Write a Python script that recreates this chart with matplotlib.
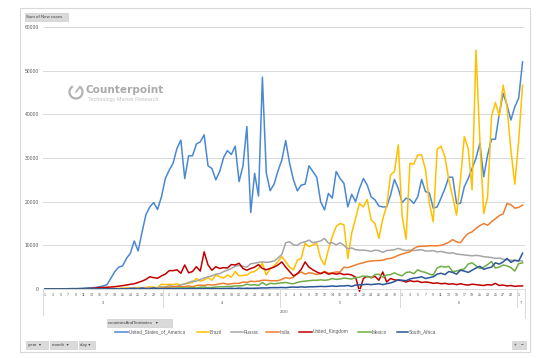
import numpy as np
import pandas as pd
import matplotlib
matplotlib.use("Agg")
import matplotlib.pyplot as plt
from matplotlib.patches import Rectangle, Arc
from matplotlib.lines import Line2D

plt.rcParams['font.family'] = ['Liberation Sans', 'DejaVu Sans']

# daily new cases, 1 March - 2 July 2020
days = pd.date_range("2020-03-01", "2020-07-02")

usa = [0, 10, 20, 20, 30, 40, 70, 100, 100, 120, 200, 270, 290, 350, 510,
       700, 1000, 2500, 4000, 5000, 5300, 7000, 8200, 11000, 8700, 13000, 17000, 18800, 19800, 18200,
       21100, 25300, 27200, 28800, 32200, 34100, 25300, 30500, 30500, 33200, 33700, 35300, 28200, 27600, 25000,
       26900, 30100, 31700, 30800, 32700, 24600, 28200, 37200, 17500, 26500, 21300, 48500, 26600, 22500, 24000,
       27000, 29500, 34000, 28800, 25000, 22500, 23800, 24000, 28200, 26900, 25600, 20000, 18100, 21900, 20800,
       26900, 25300, 24200, 18800, 21700, 20000, 23000, 25300, 23800, 21100, 20400, 19000, 18800, 18800, 21500,
       25100, 23000, 19800, 20800, 20500, 19600, 21100, 25100, 22300, 22000, 18500, 18800, 20800, 23000, 25600,
       25600, 19600, 19600, 23400, 25300, 27600, 29900, 33400, 25700, 30700, 34300, 34300, 40100, 44800, 42100,
       38700, 41700, 43700, 52000]
brazil = [0, 0, 0, 0, 0, 0, 0, 0, 0, 0, 10, 10, 20, 30, 40, 50, 60, 100, 120, 150, 200, 250, 230, 200, 350,
          300, 350, 500, 400, 300, 1100, 1000, 1100, 1000, 1200, 900, 1200, 1300, 1500, 2400, 1800, 2100, 2600,
          2000, 3200, 2800, 2500, 3200, 2700, 4000, 3000, 3100, 3200, 3800, 4000, 4700, 5900, 3200, 4600, 5300,
          6300, 7400, 6300, 5000, 4400, 6600, 7000, 10500, 9700, 10100, 10500, 7000, 5500, 9000, 12000, 14300,
          15000, 14700, 7000, 12800, 16200, 19600, 18800, 20500, 15800, 15000, 11600, 16000, 19000, 26100, 26900,
          33000, 16600, 11400, 28800, 28600, 30700, 30700, 27300, 19600, 15400, 32000, 32700, 30300, 25000, 21100,
          16900, 25000, 34900, 32200, 22700, 54700, 34100, 17300, 21100, 39500, 42700, 39600, 46700, 41700, 31800,
          24000, 34000, 46700]
russia = [0, 0, 0, 0, 0, 0, 0, 0, 0, 0, 0, 0, 0, 10, 10, 20, 30, 50, 50, 60,
          70, 60, 70, 160, 180, 200, 230, 300, 270, 300, 500, 440, 770, 600, 580, 950, 1150, 1500, 1800, 1800,
          2200, 2500, 2800, 3000, 3400, 3500, 4000, 4300, 4700, 5200, 5400, 5200, 5000, 5800, 5900, 6100, 6200,
          6100, 6200, 6400, 7100, 7900, 10600, 10800, 10100, 10000, 10600, 10800, 11200, 10600, 10800, 11000,
          11600, 10500, 10600, 10100, 10600, 10000, 9200, 9400, 9000, 8900, 8900, 8800, 8600, 8900, 8800, 8400,
          8800, 8900, 9000, 9300, 9000, 8800, 8900, 8800, 8900, 9000, 8700, 8700, 8800, 8500, 8600, 8400, 8200,
          8300, 8000, 7900, 7800, 7700, 7600, 7700, 7600, 7400, 7300, 7200, 7000, 7100, 6800, 6700, 6600, 6500,
          6500, 6400]
india = [0, 0, 0, 1, 20, 2, 1, 3, 5, 4, 13, 6, 11, 8, 9, 23, 12, 15, 22, 25, 50, 60, 90, 80, 100, 70, 150,
         140, 160, 100, 230, 390, 400, 500, 600, 480, 550, 700, 500, 800, 900, 800, 1000, 900, 1000, 1200, 1300,
         1100, 1200, 1300, 1300, 1600, 1500, 1800, 1700, 1800, 2000, 2000, 1900, 1900, 1900, 2200, 2600, 2400,
         2700, 3500, 3900, 3400, 3700, 3600, 3300, 3600, 4000, 3600, 3700, 3900, 3900, 5000, 4900, 5200, 5500,
         5800, 6000, 6300, 6400, 6500, 6500, 6600, 6900, 7000, 7300, 7700, 8000, 8300, 8500, 9300, 9700, 9800,
         9800, 9900, 9900, 9900, 10000, 10300, 10700, 11300, 10800, 10600, 11800, 12700, 13100, 13900, 14500,
         15000, 14600, 15400, 16100, 16800, 17200, 19600, 19300, 18500, 18700, 19200]
uk = [0, 10, 10, 20, 30, 50, 50, 60, 50, 70, 50, 80, 130, 200, 340, 340,
      400, 450, 530, 650, 760, 920, 1070, 1200, 1500, 1800, 2200, 2800, 2600, 2450, 3000, 3400, 4200, 4200,
      4400, 3600, 5500, 3700, 4000, 5100, 4100, 8500, 5500, 4300, 5100, 4700, 4900, 4800, 5600, 5500, 5900,
      4700, 4300, 4700, 5000, 5600, 4700, 4400, 4700, 5000, 5500, 6200, 5000, 4000, 3000, 3500, 4500, 6200,
      5000, 4400, 3900, 3500, 3900, 3400, 3600, 3400, 3600, 3300, 3400, 3200, 2700, -525, 2400, 2900, 2600,
      2900, 2000, 3900, 1600, 2400, 2100, 2000, 1900, 1600, 1900, 1700, 1800, 1500, 1600, 1500, 1300, 1400,
      1200, 1300, 1100, 1200, 1000, 1200, 1000, 900, 1100, 1000, 900, 800, 1000, 900, 1300, 800, 900, 700,
      800, 600, 700, 700]
mexico = [0, 0, 0, 0, 0, 0, 0, 0, 0, 0, 0, 0, 1, 2, 12, 0, 14, 29, 11, 25, 46, 37, 46, 49, 90, 47, 69, 64,
          70, 150, 130, 150, 170, 180, 200, 300, 250, 270, 330, 250, 420, 450, 300, 330, 450, 500, 500, 580,
          600, 700, 700, 760, 1100, 900, 1000, 800, 1500, 900, 1300, 1200, 1300,
          1400, 1500, 1300, 1200, 1500, 1700, 1800, 1900, 2000, 2000, 2100, 2000, 2100, 2400, 2200, 2300, 2500,
          2400, 2300, 2600, 2700, 3000, 2800, 2600, 3300, 3400, 2700, 3200, 3300, 3700, 3300, 3000, 3800, 3900,
          3500, 4400, 4000, 3800, 3400, 3200, 4800, 5200, 5000, 5200, 4000, 4100, 4400, 4600, 5700, 6000, 5300,
          4700, 5000, 5600, 6300, 4800, 5000, 5500, 5300, 4900, 4100, 5800, 6000]
south_africa = [0, 0, 0, 0, 0, 1, 0, 1, 5, 4, 3, 4, 3, 7, 0, 13, 24, 23, 52, 0, 38, 34, 128, 128, 0, 218, 0,
                0, 243, 17, 46, 82, 70, 80, 90, 50, 60, 80, 90, 40, 80, 70, 80, 100, 90, 60, 90, 130, 170, 100,
                200, 120, 180, 150, 170, 200, 250, 240, 300, 310, 320,
                350, 300, 400, 450, 400, 500, 420, 500, 500, 550, 600, 560, 600, 700, 600, 700, 700, 800, 600,
                900, 950, 1000, 1100, 1000, 1100, 1200, 1000, 1200, 1400, 1700, 2100, 2000, 1900, 2300, 2500,
                2600, 2800, 2400, 2600, 2800, 3400, 3600, 3300, 4000, 3800, 3400, 4300, 4100, 3800, 4300, 4800,
                5200, 4500, 4800, 5000, 6000, 5700, 6200, 7000, 6100, 6600, 6400, 8200]

names = ["United_States_of_America", "Brazil", "Russia", "India", "United_Kingdom", "Mexico", "South_Africa"]
series = [usa, brazil, russia, india, uk, mexico, south_africa]
colors = ["#4A88D4", "#FFC000", "#A5A5A5", "#ED7D31", "#C00000", "#70AD47", "#2B5597"]

W, H = 550, 358
fig = plt.figure(figsize=(5.5, 3.58), dpi=100)


def fx(px):
    return px / W


def fy(py):
    return 1 - py / H


def button(x0, y0, x1, y1, label, fs=3.2):
    fig.add_artist(Rectangle((fx(x0), fy(y1)), fx(x1 - x0), (y1 - y0) / H,
                             transform=fig.transFigure, fc="#DADADA", ec="#C8C8C8", lw=0.4))
    fig.text(fx(x0 + 1.5), fy((y0 + y1) / 2), label, fontsize=fs, color="#404040",
             ha="left", va="center")


# outer chart border
fig.add_artist(Rectangle((fx(20), fy(352)), fx(510), 344 / H, transform=fig.transFigure,
                         fill=False, ec="#D9D9D9", lw=0.8))

ax = fig.add_axes([fx(43), fy(289), fx(524.5 - 43), (289 - 27) / H])
x = np.arange(len(days))
for vals, c in zip(series, colors):
    ax.plot(x, vals, color=c, lw=1.1, clip_on=False, solid_joinstyle="round")

ax.set_xlim(-0.5, len(days) - 0.5)
ax.set_ylim(0, 60000)
ax.set_yticks(range(0, 60001, 10000))
ax.grid(axis="y", color="#D9D9D9", lw=0.7)
ax.set_axisbelow(True)
for s in ["top", "right", "left"]:
    ax.spines[s].set_visible(False)
ax.spines["bottom"].set_color("#D9D9D9")
ax.spines["bottom"].set_linewidth(0.7)
ax.tick_params(axis="y", length=0, labelsize=3.6, colors="#595959", pad=3)
ax.set_xticks([])

# multi-level category axis: day / month / year
tr = ax.get_xaxis_transform()
for i, d in enumerate(days):
    if i % 2 == 0:
        ax.text(i, -0.022, str(d.day), transform=tr, fontsize=2.6, color="#595959",
                ha="center", va="center")
months = sorted(set(days.month))
for m in months:
    idx = np.where(days.month == m)[0]
    ax.text((idx[0] + idx[-1]) / 2, -0.053, str(m), transform=tr, fontsize=3.0, color="#595959",
            ha="center", va="center")
    if idx[0] > 0:
        ax.plot([idx[0] - 0.5] * 2, [0, -0.068], transform=tr, color="#D9D9D9", lw=0.7, clip_on=False)
ax.plot([-0.5] * 2, [0, -0.10], transform=tr, color="#D9D9D9", lw=0.7, clip_on=False)
ax.plot([len(days) - 0.5] * 2, [0, -0.11], transform=tr, color="#D9D9D9", lw=0.7, clip_on=False)
ax.text((len(days) - 1) / 2, -0.088, str(days[0].year), transform=tr, fontsize=2.8,
        color="#595959", ha="center", va="center")

# watermark
fig.add_artist(Arc((fx(76), fy(92)), 13 / W, 13 / H, theta1=110, theta2=70,
                   transform=fig.transFigure, color="#B3B3B3", lw=1.6))
fig.add_artist(Line2D([fx(76), fx(79)], [fy(92), fy(88)], transform=fig.transFigure,
                      color="#B3B3B3", lw=1.2))
fig.text(fx(85), fy(90), "Counterpoint", fontsize=7.6, weight="bold", color="#ABABAB",
         ha="left", va="center", family="DejaVu Sans")
fig.text(fx(88), fy(99.5), "Technology Market Research", fontsize=3.9, color="#C3C3C3",
         ha="left", va="center")

# buttons
button(25, 12.5, 68, 20.5, "Sum of New cases")
button(107, 319, 172, 327, "countriesAndTerritories   \u25be")
button(26, 341, 48, 348.5, "year  \u25be")
button(50, 341, 77, 348.5, "month  \u25be")
button(79, 341, 95, 348.5, "day \u25be")
button(512, 341, 518.5, 348.5, "+", fs=3.4)
button(519.5, 341, 526, 348.5, "\u2212", fs=3.4)

# legend entries
leg_x = [(115, 128), (197, 209), (231, 243), (266, 279), (299, 312), (358, 371), (397, 408)]
for (a, b), name, c in zip(leg_x, names, colors):
    fig.add_artist(Line2D([fx(a), fx(b)], [fy(332), fy(332)], transform=fig.transFigure,
                          color=c, lw=1.1))
    fig.text(fx(b + 1), fy(332), name, fontsize=3.4, color="#595959", ha="left", va="center")

fig.savefig("out.png", dpi=100, facecolor="white")
